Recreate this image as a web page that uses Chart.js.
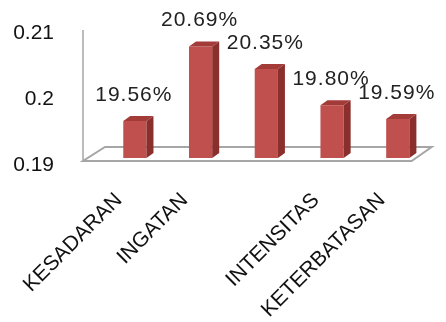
<!DOCTYPE html>
<html lang="en">
<head>
    <meta charset="UTF-8">
    <title>Persentase Dimensi</title>
    <script src="https://cdn.jsdelivr.net/npm/chart.js"></script>
    <style>
        html, body { margin: 0; padding: 0; background: #ffffff; }
        .chart-container { position: relative; width: 446px; height: 322px; }
    </style>
</head>
<body>
    <div class="chart-container">
        <canvas id="dimChart" width="446" height="322"></canvas>
    </div>
    <script>
        // Data
        const categories = ['KESADARAN', 'INGATAN', '', 'INTENSITAS', 'KETERBATASAN'];
        const values = [0.1956, 0.2069, 0.2035, 0.1980, 0.1959];
        const valueLabels = ['19.56%', '20.69%', '20.35%', '19.80%', '19.59%'];
        const yTicks = [0.19, 0.2, 0.21];

        const FONT = '"Liberation Sans", Arial, sans-serif';
        const DEPTH_X = 7, DEPTH_Y = 5;   // bar side/top offsets

        // Floor and front axis line of the 3D look
        const floorPlugin = {
            id: 'floor',
            beforeDatasetsDraw(chart) {
                const { ctx, chartArea: a } = chart;
                const backY = a.bottom - 11, frontY = a.bottom + 3;
                ctx.save();
                ctx.strokeStyle = '#a6a6a6';
                ctx.lineWidth = 2;
                ctx.fillStyle = '#ffffff';
                ctx.beginPath();
                ctx.moveTo(a.left + 3, backY);
                ctx.lineTo(a.right + 1, backY);
                ctx.lineTo(a.right - 19, frontY);
                ctx.lineTo(a.left - 19, frontY);
                ctx.closePath();
                ctx.fill();
                ctx.stroke();
                ctx.lineWidth = 1.5;
                ctx.beginPath();
                ctx.moveTo(a.left - 19, a.top + 4);
                ctx.lineTo(a.left - 19, frontY);
                ctx.stroke();
                ctx.restore();
            }
        };

        // Side and top faces of each bar, plus value labels
        const bar3dPlugin = {
            id: 'bar3d',
            afterDatasetsDraw(chart) {
                const { ctx, chartArea: a } = chart;
                const meta = chart.getDatasetMeta(0);
                ctx.save();
                meta.data.forEach((bar, i) => {
                    const { x, y, width } = bar.getProps(['x', 'y', 'width'], true);
                    const base = a.bottom;
                    const l = x - width / 2, r = x + width / 2;
                    ctx.fillStyle = '#8a2f2c';
                    ctx.beginPath();
                    ctx.moveTo(r, y);
                    ctx.lineTo(r + DEPTH_X, y - DEPTH_Y);
                    ctx.lineTo(r + DEPTH_X, base - DEPTH_Y);
                    ctx.lineTo(r, base);
                    ctx.closePath();
                    ctx.fill();
                    ctx.fillStyle = '#a33b38';
                    ctx.beginPath();
                    ctx.moveTo(l, y);
                    ctx.lineTo(l + DEPTH_X, y - DEPTH_Y);
                    ctx.lineTo(r + DEPTH_X, y - DEPTH_Y);
                    ctx.lineTo(r, y);
                    ctx.closePath();
                    ctx.fill();

                    ctx.fillStyle = '#222222';
                    ctx.font = '21px ' + FONT;
                    ctx.letterSpacing = '1px';
                    ctx.textAlign = 'center';
                    ctx.textBaseline = 'alphabetic';
                    ctx.fillText(valueLabels[i], x - 1, y - 20);
                });
                ctx.restore();
            }
        };

        const ctx = document.getElementById('dimChart').getContext('2d');
        new Chart(ctx, {
            type: 'bar',
            data: {
                labels: categories,
                datasets: [{
                    data: values,
                    backgroundColor: '#c0504d',
                    borderWidth: 0,
                    categoryPercentage: 1,
                    barPercentage: 0.353
                }]
            },
            options: {
                responsive: false,
                animation: false,
                layout: { padding: { top: 26, right: 4, left: 0, bottom: 0 } },
                plugins: {
                    legend: { display: false },
                    tooltip: { enabled: false }
                },
                scales: {
                    x: {
                        grid: { display: false, drawTicks: false },
                        border: { display: false },
                        afterFit: s => { s.height = 164; },
                        ticks: {
                            autoSkip: false,
                            maxRotation: 45,
                            minRotation: 45,
                            labelOffset: -16,
                            padding: 30,
                            color: '#111111',
                            font: { family: FONT, size: 21 }
                        }
                    },
                    y: {
                        min: 0.19,
                        max: 0.21,
                        afterBuildTicks: s => { s.ticks = yTicks.map(v => ({ value: v })); },
                        afterFit: s => {
                            s.width = 102;
                            s.paddingTop = 0;
                            s.paddingBottom = 0;
                        },
                        grid: { display: false, drawTicks: false },
                        border: { display: false },
                        ticks: {
                            padding: 48,
                            labelOffset: 7,
                            color: '#111111',
                            font: { family: FONT, size: 21 },
                            callback: v => String(v)
                        }
                    }
                }
            },
            plugins: [floorPlugin, bar3dPlugin]
        });
    </script>
</body>
</html>
